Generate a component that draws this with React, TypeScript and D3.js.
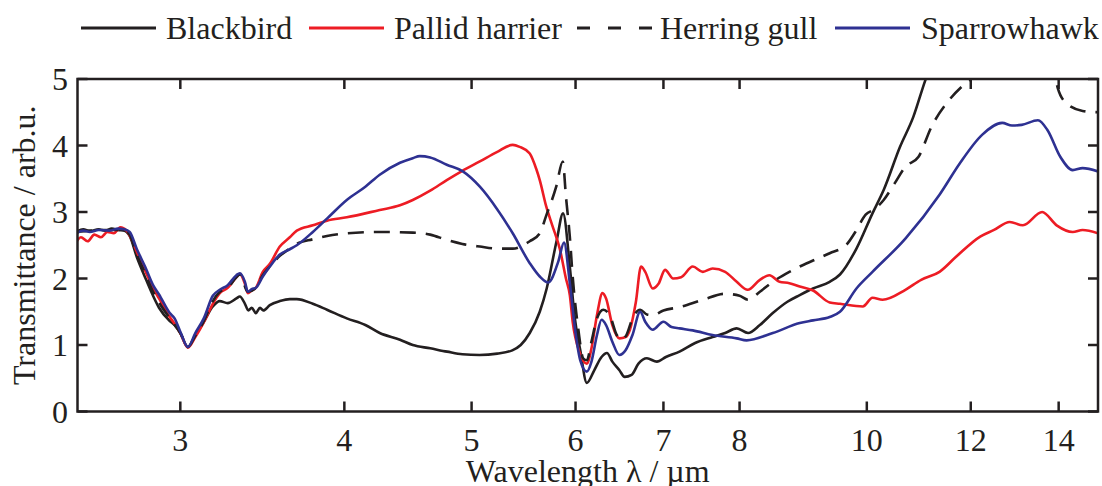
import React from 'react';
import * as d3 from 'd3';

type Pt = [number, number];

const xTicks = [3, 4, 5, 6, 7, 8, 10, 12, 14];
const yTicks = [0, 1, 2, 3, 4, 5];
const seriesNames = ['Blackbird', 'Pallid harrier', 'Herring gull', 'Sparrowhawk'];

const blackbird: Pt[] = [
  [2.5, 2.7], [2.53, 2.74], [2.56, 2.71], [2.6, 2.74], [2.63, 2.72], [2.66, 2.75], [2.69, 2.73], [2.72, 2.72],
  [2.745, 2.64], [2.78, 2.32], [2.82, 2.02], [2.86, 1.74], [2.89, 1.56], [2.945, 1.36], [2.97, 1.3], [3.0, 1.18],
  [3.04, 0.97], [3.08, 1.15], [3.126, 1.35], [3.176, 1.58], [3.215, 1.66], [3.26, 1.63], [3.31, 1.7], [3.33, 1.73],
  [3.36, 1.62], [3.38, 1.52], [3.4, 1.56], [3.425, 1.48], [3.45, 1.56], [3.47, 1.52], [3.51, 1.6], [3.572, 1.66],
  [3.635, 1.69], [3.68, 1.69], [3.785, 1.62], [3.88, 1.53], [4.017, 1.4], [4.15, 1.3], [4.256, 1.18], [4.41, 1.08],
  [4.51, 1.0], [4.65, 0.95], [4.79, 0.9], [4.92, 0.86], [5.07, 0.85], [5.23, 0.87], [5.37, 0.92], [5.45, 1.0],
  [5.537, 1.18], [5.635, 1.5], [5.704, 1.85], [5.806, 2.58], [5.87, 2.98], [5.94, 2.18], [5.99, 1.43], [6.05, 0.92],
  [6.12, 0.43], [6.2, 0.62], [6.28, 0.82], [6.34, 0.88], [6.4, 0.75], [6.48, 0.62], [6.54, 0.52], [6.62, 0.55],
  [6.7, 0.72], [6.8, 0.8], [6.92, 0.75], [7.03, 0.82], [7.2, 0.9], [7.4, 1.03], [7.63, 1.12], [7.8, 1.18],
  [7.96, 1.25], [8.12, 1.18], [8.29, 1.3], [8.48, 1.48], [8.7, 1.65], [8.89, 1.75], [9.1, 1.85], [9.37, 1.95],
  [9.54, 2.06], [9.82, 2.45], [10.1, 2.98], [10.3, 3.33], [10.6, 3.98], [10.85, 4.43], [11.08, 4.98], [11.35, 5.5],
];

const pallidHarrier: Pt[] = [
  [2.5, 2.55], [2.52, 2.62], [2.55, 2.56], [2.58, 2.66], [2.61, 2.62], [2.64, 2.7], [2.67, 2.68], [2.7, 2.77],
  [2.73, 2.72], [2.76, 2.55], [2.78, 2.4], [2.82, 2.12], [2.86, 1.86], [2.89, 1.7], [2.945, 1.42], [2.97, 1.32],
  [3.0, 1.18], [3.04, 0.96], [3.08, 1.12], [3.126, 1.34], [3.176, 1.62], [3.215, 1.78], [3.26, 1.86], [3.31, 2.02],
  [3.33, 2.07], [3.36, 1.92], [3.377, 1.78], [3.4, 1.82], [3.425, 1.86], [3.467, 2.1], [3.51, 2.22], [3.572, 2.48],
  [3.635, 2.62], [3.68, 2.72], [3.785, 2.8], [3.88, 2.87], [4.017, 2.92], [4.256, 3.03], [4.41, 3.1], [4.51, 3.18],
  [4.65, 3.32], [4.787, 3.48], [4.92, 3.62], [5.073, 3.76], [5.226, 3.9], [5.374, 4.01], [5.44, 3.98], [5.537, 3.88],
  [5.6, 3.65], [5.635, 3.48], [5.7, 3.08], [5.76, 2.8], [5.836, 2.45], [5.9, 2.0], [5.94, 1.75], [5.97, 1.35],
  [6.04, 0.9], [6.12, 0.72], [6.17, 0.95], [6.23, 1.45], [6.29, 1.78], [6.33, 1.7], [6.4, 1.3], [6.48, 1.1],
  [6.55, 1.12], [6.6, 1.23], [6.67, 1.65], [6.73, 2.18], [6.78, 2.1], [6.87, 1.85], [6.94, 1.92], [7.02, 2.13],
  [7.12, 2.0], [7.22, 2.02], [7.37, 2.18], [7.5, 2.1], [7.63, 2.15], [7.8, 2.1], [7.96, 1.95], [8.115, 1.83],
  [8.29, 1.98], [8.43, 2.05], [8.58, 1.95], [8.73, 1.93], [8.89, 1.88], [9.1, 1.82], [9.37, 1.64], [9.54, 1.62],
  [9.93, 1.58], [10.1, 1.71], [10.28, 1.68], [10.7, 1.83], [11.0, 1.98], [11.36, 2.1], [11.7, 2.33], [12.2, 2.63],
  [12.5, 2.73], [12.85, 2.85], [13.15, 2.8], [13.6, 3.0], [13.95, 2.8], [14.35, 2.7], [14.6, 2.73], [15.0, 2.68],
];

const herringGull: Pt[] = [
  [2.5, 2.7], [2.56, 2.72], [2.65, 2.73], [2.72, 2.73], [2.745, 2.66], [2.78, 2.36], [2.82, 2.08], [2.86, 1.8],
  [2.89, 1.64], [2.945, 1.4], [3.0, 1.18], [3.04, 0.97], [3.08, 1.14], [3.126, 1.36], [3.176, 1.66], [3.215, 1.8],
  [3.26, 1.86], [3.31, 2.02], [3.33, 2.06], [3.377, 1.8], [3.425, 1.86], [3.467, 2.05], [3.51, 2.18], [3.572, 2.34],
  [3.635, 2.45], [3.68, 2.52], [3.785, 2.59], [3.88, 2.64], [4.017, 2.68], [4.256, 2.7], [4.51, 2.69], [4.65, 2.66],
  [4.787, 2.58], [4.92, 2.52], [5.073, 2.48], [5.23, 2.45], [5.374, 2.45], [5.537, 2.56], [5.635, 2.68], [5.7, 2.95],
  [5.8, 3.38], [5.867, 3.76], [5.9, 3.23], [5.94, 2.63], [5.97, 2.03], [6.03, 1.23], [6.08, 0.8], [6.12, 0.77],
  [6.17, 1.05], [6.23, 1.4], [6.3, 1.53], [6.37, 1.45], [6.45, 1.15], [6.5, 1.08], [6.56, 1.15], [6.63, 1.4],
  [6.72, 1.53], [6.8, 1.46], [6.87, 1.45], [7.0, 1.52], [7.2, 1.57], [7.5, 1.68], [7.8, 1.77], [8.0, 1.74],
  [8.12, 1.68], [8.29, 1.8], [8.48, 1.95], [8.73, 2.1], [8.89, 2.18], [9.1, 2.27], [9.37, 2.38], [9.65, 2.51],
  [9.8, 2.7], [9.98, 2.96], [10.15, 3.05], [10.3, 3.18], [10.5, 3.43], [10.7, 3.68], [10.95, 3.83], [11.2, 4.28],
  [11.55, 4.68], [11.85, 4.91], [12.1, 5.05], [12.5, 5.4], [13.0, 5.6], [13.5, 5.4], [13.85, 5.2], [13.98, 4.86],
  [14.2, 4.63], [14.6, 4.52], [15.0, 4.5],
];

const sparrowhawk: Pt[] = [
  [2.5, 2.68], [2.53, 2.72], [2.56, 2.7], [2.6, 2.73], [2.65, 2.72], [2.69, 2.75], [2.72, 2.74], [2.745, 2.7],
  [2.78, 2.44], [2.82, 2.18], [2.86, 1.9], [2.89, 1.76], [2.945, 1.48], [2.97, 1.4], [3.0, 1.2], [3.04, 0.97],
  [3.08, 1.18], [3.126, 1.4], [3.176, 1.74], [3.215, 1.83], [3.26, 1.9], [3.31, 2.05], [3.33, 2.08], [3.36, 1.95],
  [3.377, 1.8], [3.4, 1.84], [3.425, 1.86], [3.467, 2.03], [3.51, 2.18], [3.572, 2.36], [3.635, 2.44], [3.68, 2.5],
  [3.785, 2.7], [3.88, 2.9], [4.017, 3.18], [4.15, 3.38], [4.256, 3.56], [4.41, 3.74], [4.51, 3.81], [4.566, 3.84],
  [4.65, 3.82], [4.787, 3.71], [4.924, 3.61], [5.073, 3.38], [5.226, 3.05], [5.374, 2.68], [5.537, 2.23], [5.635, 2.03],
  [5.72, 1.94], [5.82, 2.25], [5.88, 2.54], [5.94, 1.93], [6.0, 1.18], [6.05, 0.77], [6.12, 0.6], [6.17, 0.75],
  [6.23, 1.15], [6.28, 1.38], [6.33, 1.3], [6.4, 1.05], [6.48, 0.85], [6.55, 0.92], [6.63, 1.15], [6.72, 1.5],
  [6.78, 1.35], [6.87, 1.23], [7.0, 1.35], [7.1, 1.27], [7.2, 1.25], [7.37, 1.22], [7.63, 1.15], [7.96, 1.1],
  [8.1, 1.07], [8.48, 1.18], [8.89, 1.33], [9.1, 1.37], [9.37, 1.42], [9.54, 1.5], [9.82, 1.85], [10.1, 2.1],
  [10.7, 2.6], [11.36, 3.26], [11.77, 3.73], [12.24, 4.16], [12.68, 4.34], [12.9, 4.3], [13.12, 4.31], [13.5, 4.38],
  [13.73, 4.23], [14.04, 3.83], [14.35, 3.63], [14.6, 3.66], [15.0, 3.61],
];

const seriesData = [blackbird, pallidHarrier, herringGull, sparrowhawk];

const COLORS = ['#231f20', '#ed1c24', '#231f20', '#2e3192'];
const DASH = [null, null, '16,10', null];
const INK = '#231f20';
const FONT = "'Liberation Serif', 'Times New Roman', serif";

const W = 1102;
const H = 486;
const L = 77.5, R = 1098, T = 79, B = 411.5;
const legendX = [81, 309, 577, 835];
const legendTextX = [166, 394, 660, 921];

export default function App() {
  const x = d3.scaleLog().domain([2.505, 15]).range([L, R]);
  const y = d3.scaleLinear().domain([0, 5]).range([B, T]);
  const line = d3
    .line<Pt>()
    .x((d) => x(d[0]))
    .y((d) => y(d[1]))
    .curve(d3.curveMonotoneX);

  return (
    <svg
      width={W}
      height={H}
      style={{ position: 'absolute', left: 0, top: 0, background: '#fff' }}
      fontFamily={FONT}
    >
      <defs>
        <clipPath id="plotclip">
          <rect x={L} y={T} width={R - L} height={B - T} />
        </clipPath>
      </defs>
      <rect x={0} y={0} width={W} height={H} fill="#fff" />

      {/* legend */}
      {seriesNames.map((name, i) => (
        <g key={name}>
          <line
            x1={legendX[i]}
            x2={legendX[i] + 75}
            y1={28}
            y2={28}
            stroke={COLORS[i]}
            strokeWidth={2.8}
            strokeDasharray={DASH[i] ? '13,18' : undefined}
          />
          <text x={legendTextX[i]} y={39} fontSize={32} fill={INK}>
            {name}
          </text>
        </g>
      ))}

      {/* curves */}
      <g clipPath="url(#plotclip)">
        {seriesData.map((s, i) => (
          <path
            key={i}
            d={line(s) || ''}
            fill="none"
            stroke={COLORS[i]}
            strokeWidth={2.6}
            strokeDasharray={DASH[i] || undefined}
            strokeLinejoin="round"
          />
        ))}
      </g>

      {/* frame */}
      <rect x={L} y={T} width={R - L} height={B - T} fill="none" stroke={INK} strokeWidth={2.5} />

      {/* x ticks */}
      {xTicks.map((t) => (
        <g key={'x' + t}>
          <line x1={x(t)} x2={x(t)} y1={B} y2={B - 10} stroke={INK} strokeWidth={2.5} />
          <line x1={x(t)} x2={x(t)} y1={T} y2={T + 10} stroke={INK} strokeWidth={2.5} />
          <text x={x(t)} y={451} fontSize={32} textAnchor="middle" fill={INK}>
            {t}
          </text>
        </g>
      ))}

      {/* y ticks */}
      {yTicks.map((t) => (
        <g key={'y' + t}>
          <line x1={L} x2={L + 10} y1={y(t)} y2={y(t)} stroke={INK} strokeWidth={2.5} />
          <line x1={R} x2={R - 10} y1={y(t)} y2={y(t)} stroke={INK} strokeWidth={2.5} />
          <text x={68} y={y(t) + 11} fontSize={32} textAnchor="end" fill={INK}>
            {t}
          </text>
        </g>
      ))}

      {/* axis titles */}
      <text x={(L + R) / 2} y={482} fontSize={32} textAnchor="middle" fill={INK}>
        Wavelength λ / µm
      </text>
      <text
        transform={`translate(35, ${(T + B) / 2}) rotate(-90)`}
        fontSize={32}
        textAnchor="middle"
        fill={INK}
      >
        Transmittance / arb.u.
      </text>
    </svg>
  );
}
